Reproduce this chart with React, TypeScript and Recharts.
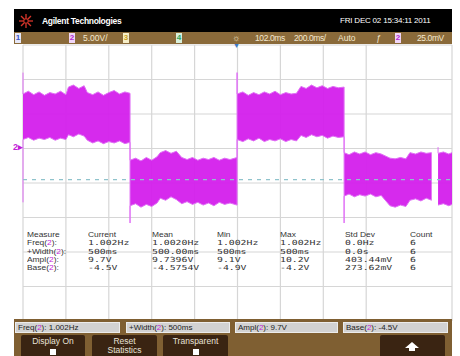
import { ComposedChart, Area, XAxis, YAxis, CartesianGrid, ReferenceLine } from "recharts";

// time (ms from left graticule edge) and noisy-band envelope of channel 2 (V)
const timeMs = [
  0, 0, 25, 50, 75, 100, 125, 150, 175, 200, 212, 235, 260, 285, 300, 325, 350, 375, 400, 425, 450, 475, 499, 499,
  499, 525, 550, 575, 600, 625, 640, 665, 690, 715, 740, 765, 790, 815, 840, 865, 890, 915, 940, 965, 998, 998,
  998, 1025, 1050, 1075, 1100, 1125, 1150, 1175, 1200, 1225, 1250, 1275, 1296, 1320, 1345, 1370, 1395, 1420, 1445, 1470, 1497, 1497,
  1497, 1520, 1545, 1570, 1595, 1620, 1645, 1670, 1711, 1735, 1760, 1785, 1804, 1830, 1855, 1880, 1905, 1920, 1935, 1935, 1960, 1985, 2000,
];
const bandLow = [
  -7.8, 1.3, 1.6, 1.2, 1.5, 1.3, 1.6, 1.2, 1.5, 1.3, 2.0, 1.7, 2.1, 1.8, 1.2, 0.8, 1.1, 0.7, 1.0, 0.8, 1.1, 0.7, 0.9, -10.8,
  -8.3, -8.0, -8.5, -8.1, -8.4, -7.9, -7.2, -7.5, -7.0, -7.4, -8.0, -7.7, -8.1, -7.8, -8.2, -7.9, -8.3, -7.8, -8.1, -7.9, -8.2, -8.2,
  1.3, 1.0, 1.4, 1.1, 1.5, 1.0, 1.3, 1.1, 1.4, 1.0, 1.3, 1.1, 1.9, 1.6, 2.0, 1.7, 1.9, 1.5, 1.8, 1.6, 1.7, -10.8,
  -6.9, -6.6, -7.0, -6.7, -6.9, -6.6, -7.0, -6.8, -8.3, -8.5, -8.2, -8.4, -7.5, -7.3, -7.6, -7.2, -7.5, null, -8.2, -8.2, -8.0, -8.3, -8.1,
];
const bandHigh = [
  11.0, 7.9, 8.3, 7.8, 8.2, 7.7, 8.1, 7.9, 8.3, 7.8, 8.9, 9.2, 8.7, 9.1, 8.1, 7.8, 8.2, 7.7, 8.1, 8.4, 7.9, 8.2, 8.0, 8.0,
  -1.7, -1.4, -1.8, -1.3, -1.7, -1.2, -0.6, -0.3, -0.7, -0.4, -1.3, -1.6, -1.3, -1.7, -1.4, -1.6, -1.3, -1.7, -1.4, -1.6, -1.3, 11.0,
  7.9, 8.2, 7.7, 8.1, 7.8, 8.2, 7.9, 8.3, 7.8, 8.1, 7.9, 8.0, 9.0, 8.7, 9.2, 8.8, 9.1, 8.7, 9.0, 8.8, 8.9, 8.9,
  -0.6, -0.9, -0.5, -0.8, -0.5, -0.9, -0.6, -0.8, -1.4, -1.5, -1.3, -1.5, -0.6, -0.8, -0.5, -0.7, -0.6, null, 0.2, -0.7, -0.5, -0.8, -0.6,
];

const xTicks = [0, 200, 400, 600, 800, 1000, 1200, 1400, 1600, 1800, 2000];
const yTicks = [-25, -20, -15, -10, -5, 0, 5, 10, 15];
const baseLevel = -4.5;

const measureHeads = ["Measure", "Current", "Mean", "Min", "Max", "Std Dev", "Count"];
const measureNames = ["Freq", "+Width", "Ampl", "Base"];
const currentVals = ["1.002Hz", "500ms", "9.7V", "-4.5V"];
const meanVals = ["1.0020Hz", "500.00ms", "9.7396V", "-4.5754V"];
const minVals = ["1.002Hz", "500ms", "9.1V", "-4.9V"];
const maxVals = ["1.002Hz", "500ms", "10.2V", "-4.2V"];
const stdVals = ["0.0Hz", "0.0s", "403.44mV", "273.62mV"];
const countVals = ["6", "6", "6", "6"];

const colX = [27, 88, 152, 217, 280, 345, 410];
const MAG = "#c21fd8";
const BAR_TXT = "#f3e8cf";

const abs = (l: number, t: number, extra: any = {}) => ({ position: "absolute" as const, left: l, top: t, ...extra });

// tight rows like the scope font: small glyphs stretched sideways
const rowText = (sx: number, mono = false) => ({
  fontSize: 7,
  lineHeight: "8px",
  height: 8,
  whiteSpace: "nowrap",
  transform: `scaleX(${sx})`,
  transformOrigin: "left center",
  fontFamily: mono ? "'DejaVu Sans Mono', monospace" : "'Liberation Sans', Arial, sans-serif",
});

function Chan({ x, n, bg, fg }: { x: number; n: string; bg: string; fg: string }) {
  return (
    <div style={abs(x, 33, { width: 6, height: 10, background: bg, color: fg, fontSize: 8, lineHeight: "10px", textAlign: "center", fontWeight: "bold" })}>
      {n}
    </div>
  );
}

function Label({ name }: { name: string }) {
  return (
    <span>
      {name}(<span style={{ color: MAG }}>2</span>):
    </span>
  );
}

export default function App() {
  const data = timeMs.map((t, i) => ({
    t,
    band: bandLow[i] == null ? null : [bandLow[i], bandHigh[i]],
  }));
  const cols = [currentVals, meanVals, minVals, maxVals, stdVals, countVals];
  const footX = [15, 126, 235, 343];
  const footW = [105, 104, 103, 105];

  return (
    <div style={{ position: "absolute", left: 0, top: 0, width: 460, height: 356, background: "#fff", overflow: "hidden", fontFamily: "'Liberation Sans', Arial, sans-serif" }}>
      {/* graticule and waveform */}
      <div style={abs(17, 39)}>
        <ComposedChart width={441} height={288} data={data} margin={{ top: 6, right: 6, bottom: 6, left: 6 }}>
          <CartesianGrid stroke="#d6d6d6" strokeWidth={1.2} />
          <XAxis type="number" dataKey="t" domain={[0, 2000]} ticks={xTicks} hide />
          <YAxis type="number" domain={[-25, 15]} ticks={yTicks} hide />
          <Area
            type="linear"
            dataKey="band"
            fill="#d41fec"
            fillOpacity={0.95}
            stroke="#e070f5"
            strokeWidth={1}
            connectNulls={false}
            dot={false}
            activeDot={false}
            isAnimationActive={false}
          />
          <ReferenceLine y={baseLevel} stroke="#8fc3cc" strokeDasharray="4 5" strokeWidth={1.2} />
        </ComposedChart>
      </div>

      {/* ground marker + trigger marker */}
      <div style={abs(13, 142, { color: MAG, fontSize: 9, fontWeight: "bold", lineHeight: "11px" })}>2▸</div>
      <div style={abs(233, 42, { color: "#3a78c8", fontSize: 7, lineHeight: "7px" })}>▼</div>

      {/* measurement table */}
      <div style={{ position: "absolute", left: 0, top: 231, color: "#333" }}>
        {measureHeads.map((h, i) => (
          <div key={h} style={abs(colX[i], 0, rowText(1.2))}>{h}</div>
        ))}
        {measureNames.map((n, r) => (
          <div key={n}>
            <div style={abs(colX[0], 8.33 * (r + 1), rowText(1.2))}>
              <Label name={n} />
            </div>
            {cols.map((c, ci) => (
              <div key={ci} style={abs(colX[ci + 1], 8.33 * (r + 1), rowText(1.4, true))}>
                {c[r]}
              </div>
            ))}
          </div>
        ))}
      </div>

      {/* header */}
      <div style={abs(14, 9, { width: 438, height: 23, background: "#000" })} />
      <svg style={abs(18, 13)} width={16} height={16} viewBox="0 0 16 16">
        {[0, 45, 90, 135].map((a) => (
          <line key={a} x1={1} y1={8} x2={15} y2={8} stroke="#d8352a" strokeWidth={1.3} transform={`rotate(${a} 8 8)`} />
        ))}
        <circle cx={8} cy={8} r={2.2} fill="#000" stroke="#d8352a" strokeWidth={1} />
      </svg>
      <div style={abs(42, 15, { color: "#fff", fontSize: 8.5, fontWeight: "bold", letterSpacing: -0.3, lineHeight: "12px" })}>
        Agilent Technologies
      </div>
      <div style={abs(340, 15, { color: "#fff", fontSize: 8, letterSpacing: -0.2, lineHeight: "12px", whiteSpace: "nowrap" })}>
        FRI DEC 02 15:34:11 2011
      </div>

      {/* channel bar */}
      <div style={abs(14, 32, { width: 438, height: 12, background: "#8a6a3a" })} />
      <Chan x={15} n="1" bg="#e6e8f8" fg="#3a55c8" />
      <Chan x={69} n="2" bg="#f0d6f8" fg="#b326d0" />
      <div style={abs(83, 32, { color: BAR_TXT, fontSize: 8.5, lineHeight: "12px" })}>5.00V/</div>
      <Chan x={123} n="3" bg="#f6eec8" fg="#c8a020" />
      <Chan x={176} n="4" bg="#d8f0dc" fg="#2fa05a" />
      <div style={abs(232, 32, { color: BAR_TXT, fontSize: 9, lineHeight: "12px" })}>☼</div>
      <div style={abs(255, 32, { color: BAR_TXT, fontSize: 8.5, lineHeight: "12px", letterSpacing: -0.4 })}>102.0ms</div>
      <div style={abs(294, 32, { color: BAR_TXT, fontSize: 8.5, lineHeight: "12px", letterSpacing: -0.4 })}>200.0ms/</div>
      <div style={abs(338, 32, { color: BAR_TXT, fontSize: 8.5, lineHeight: "12px" })}>Auto</div>
      <div style={abs(376, 32, { color: BAR_TXT, fontSize: 8.5, lineHeight: "12px", fontStyle: "italic" })}>ƒ</div>
      <Chan x={395} n="2" bg="#f0d6f8" fg="#b326d0" />
      <div style={abs(417, 32, { color: BAR_TXT, fontSize: 8.5, lineHeight: "12px", letterSpacing: -0.4 })}>25.0mV</div>

      {/* bottom soft-key area */}
      <div style={abs(14, 319, { width: 438, height: 37, background: "#7f5f32" })} />
      {measureNames.map((n, i) => (
        <div
          key={n}
          style={abs(footX[i], 322, {
            width: footW[i],
            height: 11,
            background: "#d2d2d2",
            boxSizing: "border-box",
            border: "1px solid #ececec",
            fontSize: 8,
            lineHeight: "9px",
            color: "#222",
            paddingLeft: 2,
            whiteSpace: "nowrap",
          })}
        >
          <Label name={n} /> {currentVals[i]}
        </div>
      ))}
      {[
        { x: 21, w: 64, t: "Display On", box: true },
        { x: 92, w: 65, t: "Reset", t2: "Statistics" },
        { x: 163, w: 65, t: "Transparent", box: true },
      ].map((b) => (
        <div key={b.t} style={abs(b.x, 335, { width: b.w, height: 24, background: "#3a2412", borderRadius: 2, color: "#e8e2d8", fontSize: 8.5, textAlign: "center", lineHeight: "9px" })}>
          <div style={{ marginTop: 2 }}>{b.t}</div>
          {b.t2 && <div>{b.t2}</div>}
          {b.box && <div style={{ width: 6, height: 6, background: "#fff", margin: "3px auto 0" }} />}
        </div>
      ))}
      <div style={abs(380, 335, { width: 65, height: 24, background: "#3a2412", borderRadius: 2 })}>
        <svg width={65} height={21}>
          <polygon points="32,7 39,13 35,13 35,16 29,16 29,13 25,13" fill="#fff" />
        </svg>
      </div>
    </div>
  );
}
